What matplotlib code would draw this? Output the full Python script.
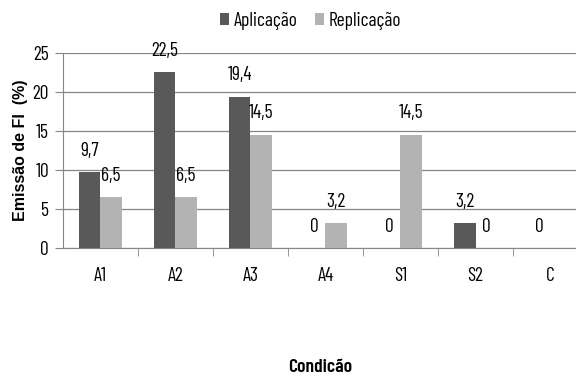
import numpy as np
import matplotlib
matplotlib.use('Agg')
import matplotlib.pyplot as plt

categorias = ['A1', 'A2', 'A3', 'A4', 'S1', 'S2', 'C']
aplicacao = [9.7, 22.5, 19.4, 0, 0, 3.2, 0]
replicacao = [6.5, 6.5, 14.5, 3.2, 14.5, 0, None]
rotulos_ap = ['9,7', '22,5', '19,4', '0', '0', '3,2', '0']
rotulos_rep = ['6,5', '6,5', '14,5', '3,2', '14,5', '0', '']

plt.rcParams['font.family'] = ['Barlow Condensed', 'DejaVu Sans']
tam = 14

fig = plt.figure(figsize=(5.76, 3.81), dpi=100)
ax = fig.add_axes([0.109, 0.349, 0.912, 0.512])

x = np.arange(len(categorias))
w = 0.29
cor_ap = '#595959'
cor_rep = '#b3b3b3'

rep_vals = [v if v is not None else 0 for v in replicacao]
b1 = ax.bar(x - w / 2, aplicacao, w, color=cor_ap, label='Aplicação', zorder=3)
b2 = ax.bar(x + w / 2, rep_vals, w, color=cor_rep, label='Replicação', zorder=3)

for i in range(len(x)):
    ax.annotate(rotulos_ap[i], (x[i] - w / 2, aplicacao[i]), xytext=(0, 9),
                textcoords='offset points', ha='center', va='bottom', fontsize=tam)
    if rotulos_rep[i]:
        ax.annotate(rotulos_rep[i], (x[i] + w / 2, rep_vals[i]), xytext=(0, 9),
                    textcoords='offset points', ha='center', va='bottom', fontsize=tam)

ax.set_xlim(-0.5, len(categorias) - 0.5)
ax.set_ylim(0, 25)
ax.set_yticks([0, 5, 10, 15, 20, 25])
ax.set_xticks(x)
ax.set_xticklabels(categorias)
ax.set_xticks(np.arange(len(categorias)) + 0.5, minor=True)
ax.tick_params(axis='x', which='major', length=0, pad=14, labelsize=tam)
ax.tick_params(axis='x', which='minor', length=6, color='#868686')
ax.tick_params(axis='y', length=6, color='#868686', labelsize=tam, pad=4)

ax.yaxis.grid(True, color='#868686', linewidth=0.9, zorder=0)
for s in ['top', 'right']:
    ax.spines[s].set_visible(False)
ax.spines['left'].set_color('#868686')
ax.spines['bottom'].set_color('#868686')

ax.set_ylabel('Emissão de FI  (%)', family='Liberation Sans', fontweight='bold',
              fontsize=11.5, labelpad=3)
fig.text(0.556, 0.035, 'Condicão', ha='center', va='center', fontsize=tam,
         fontweight='semibold')

fig.legend(handles=[b1, b2], loc='center', bbox_to_anchor=(0.54, 0.945), ncol=2,
           frameon=False, fontsize=tam, handlelength=0.45, handleheight=0.6,
           handletextpad=0.25, columnspacing=0.9)

fig.savefig('out.png', dpi=100)
